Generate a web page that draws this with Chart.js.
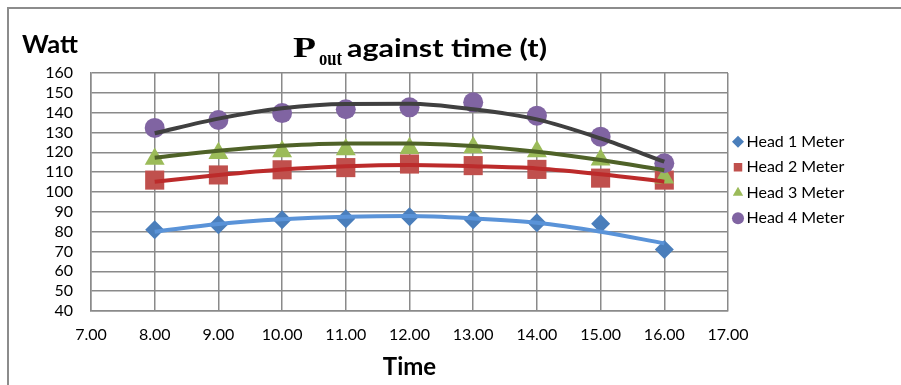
<!DOCTYPE html>
<html>
<head>
<meta charset="utf-8">
<title>Pout against time</title>
<script src="https://cdn.jsdelivr.net/npm/chart.js@4.4.0/dist/chart.umd.min.js"></script>
<style>
  html, body { margin: 0; padding: 0; background: #fff; }
  canvas { display: block; }
</style>
</head>
<body>
<canvas id="poutChart" width="901" height="385"></canvas>
<script>
// === Data ===
const times = [8, 9, 10, 11, 12, 13, 14, 15, 16];
const seriesNames = ['Head 1 Meter', 'Head 2 Meter', 'Head 3 Meter', 'Head 4 Meter'];

const head1 = [81, 83.5, 86, 86.5, 87.5, 86, 84.5, 84, 71];
const head2 = [106, 108.6, 111.2, 112.3, 114.1, 113.3, 111.4, 107, 106];
const head3 = [116.7, 119.5, 120.4, 121.4, 122, 122.4, 120.4, 116.2, 107.2];
const head4 = [132.3, 136.3, 139.8, 141.7, 142.7, 145.2, 138.5, 127.9, 114.5];

// trend lines (polynomial trendlines in the original), read at each hour
const trend1 = [80, 83.9, 86.2, 87.5, 87.9, 86.7, 84.5, 80, 74.1];
const trend2 = [105.2, 108.6, 111.4, 113, 113.6, 113, 111.9, 109, 105.2];
const trend3 = [117.3, 120.8, 123.3, 124.5, 124.5, 123.2, 120.3, 116.1, 111];
const trend4 = [129.6, 137, 142.2, 144.4, 144.5, 141.7, 136.6, 127, 115.3];

const markerColors = ['#4A7EBB', '#C0504D', '#9BBB59', '#8064A2'];
const trendColors = ['#5A93D8', '#BC2B2B', '#4F6228', '#404040'];
const markerStyles = ['rectRot', 'rect', 'triangle', 'circle'];
const markerRadius = [9.5, 13.5, 11.5, 10];

const toPoints = vals => times.map((t, i) => ({ x: t, y: vals[i] }));

const markerSets = [head1, head2, head3, head4].map((vals, i) => ({
  label: seriesNames[i],
  data: toPoints(vals),
  showLine: false,
  pointStyle: markerStyles[i],
  pointRadius: markerRadius[i],
  pointHoverRadius: markerRadius[i],
  pointBorderWidth: 0,
  backgroundColor: markerColors[i],
  borderColor: markerColors[i],
  borderWidth: 0,
  order: 4 - i
}));

const trendSets = [trend1, trend2, trend3, trend4].map((vals, i) => ({
  label: 'trend ' + (i + 1),
  data: toPoints(vals),
  showLine: true,
  pointRadius: 0,
  borderColor: trendColors[i],
  borderWidth: 4,
  cubicInterpolationMode: 'monotone',
  order: 0
}));

// legend width: keep the plot's right edge at x = 728
const legendFont = 16;
const legendPad = 9.5;
const legendBox = 1;
const measureCtx = document.createElement('canvas').getContext('2d');
measureCtx.font = legendFont + 'px Lato';
const legendTextW = Math.max(...seriesNames.map(n => measureCtx.measureText(n).width));
const legendW = legendPad + legendBox + legendFont / 2 + legendTextW + 10;
const rightPad = Math.max(0, 901 - 728 - legendW);

// === Decorations: outer frame, title, y-axis caption ===
function fitText(ctx, text, font, x, baseline, width) {
  ctx.font = font;
  const w = ctx.measureText(text).width;
  ctx.save();
  ctx.translate(x, baseline);
  ctx.scale(width / w, 1);
  ctx.fillText(text, 0, 0);
  ctx.restore();
}

const decor = {
  id: 'decor',
  beforeDraw(chart) {
    const ctx = chart.ctx;
    ctx.save();
    ctx.fillStyle = '#fff';
    ctx.fillRect(0, 0, chart.width, chart.height);
    ctx.strokeStyle = '#8c8c8c';
    ctx.lineWidth = 2;
    ctx.beginPath();
    ctx.moveTo(8, chart.height + 2);
    ctx.lineTo(8, 8);
    ctx.lineTo(chart.width + 2, 8);
    ctx.stroke();
    ctx.restore();
  },
  afterDraw(chart) {
    const ctx = chart.ctx;
    ctx.save();
    ctx.fillStyle = '#000';
    ctx.textBaseline = 'alphabetic';
    ctx.textAlign = 'left';
    fitText(ctx, 'P', 'bold 30px "Liberation Serif"', 293, 57, 23);
    fitText(ctx, 'out', 'bold 20px "Liberation Serif"', 319, 65, 23);
    fitText(ctx, 'against time (t)', 'bold 25px Lato', 347, 57, 200);
    fitText(ctx, 'Watt', 'bold 25px Lato', 22, 53, 56);
    ctx.restore();
  }
};

// === Chart ===
const gridColor = '#8a8a8a';

new Chart(document.getElementById('poutChart'), {
  type: 'scatter',
  data: { datasets: [...trendSets, ...markerSets] },
  options: {
    responsive: false,
    animation: false,
    layout: { padding: { top: 73, left: 0, right: rightPad, bottom: 0 } },
    plugins: {
      tooltip: { enabled: false },
      title: { display: false },
      legend: {
        position: 'right',
        align: 'start',
        fullSize: false,
        title: { display: true, text: '', font: { size: 10, lineHeight: 1 }, padding: { top: 0, bottom: 41.2 } },
        labels: {
          usePointStyle: true,
          boxWidth: legendBox,
          boxHeight: 8.5,
          padding: legendPad,
          color: '#000',
          font: { family: 'Lato', size: legendFont },
          filter: item => item.datasetIndex >= 4,
          sort: (a, b) => a.datasetIndex - b.datasetIndex
        }
      }
    },
    scales: {
      x: {
        type: 'linear',
        min: 7,
        max: 17,
        afterFit: scale => { scale.height = 74; },
        ticks: {
          stepSize: 1,
          autoSkip: false,
          padding: 14,
          color: '#000',
          font: { family: 'Lato', size: 16 },
          callback: v => v.toFixed(2)
        },
        grid: { color: gridColor, lineWidth: 1.5, drawTicks: false },
        border: { color: gridColor, width: 1.5 },
        title: {
          display: true,
          text: 'Time',
          color: '#000',
          font: { family: 'Lato', size: 24, weight: 'bold' },
          padding: { top: 0, bottom: 3 }
        }
      },
      y: {
        min: 40,
        max: 160,
        afterFit: scale => { scale.width = 91; },
        ticks: {
          stepSize: 10,
          autoSkip: false,
          padding: 18,
          color: '#000',
          font: { family: 'Lato', size: 16 }
        },
        grid: { color: gridColor, lineWidth: 1.5, drawTicks: false },
        border: { color: gridColor, width: 1.5 }
      }
    }
  },
  plugins: [decor]
});
</script>
</body>
</html>
